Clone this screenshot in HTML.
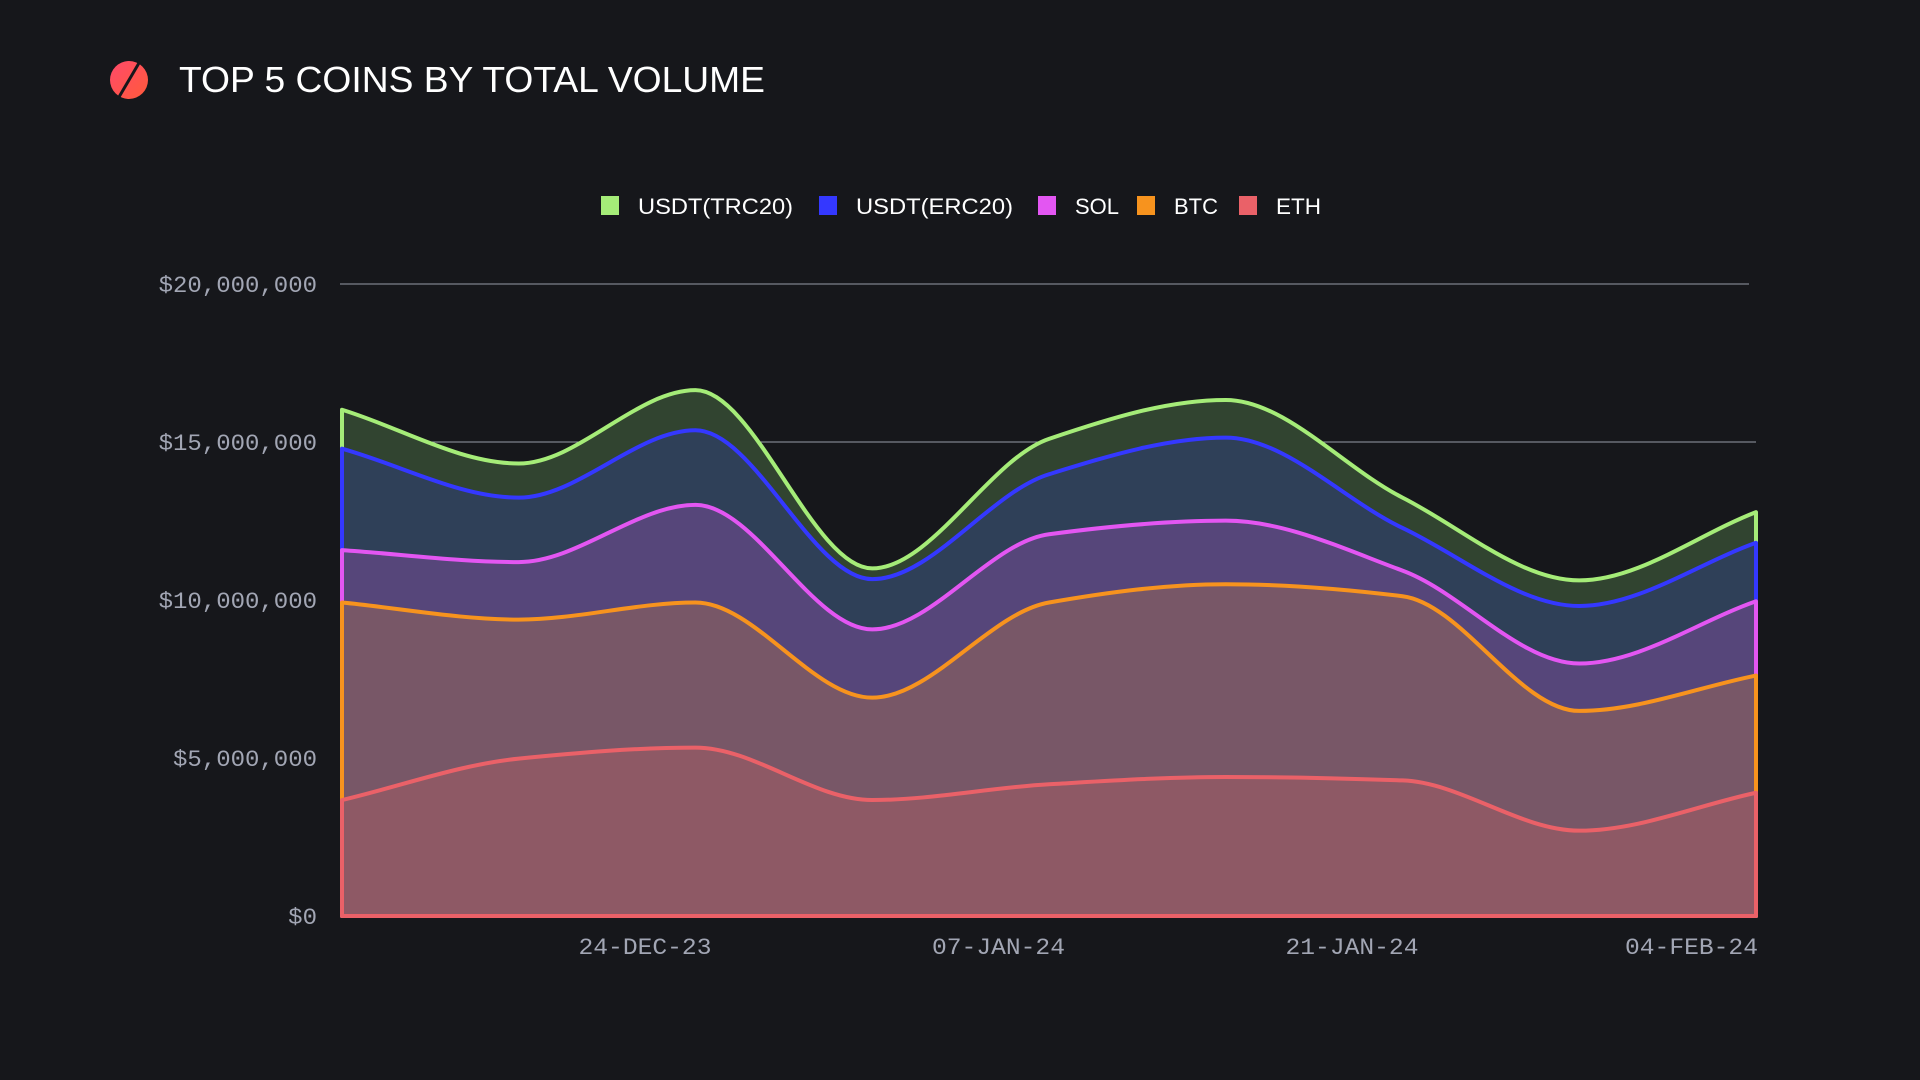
<!DOCTYPE html>
<html><head><meta charset="utf-8"><style>
html,body{margin:0;padding:0;background:#16171b;}
svg{display:block;}
</style></head><body>
<svg id="chart" width="1920" height="1080" viewBox="0 0 1920 1080" xmlns="http://www.w3.org/2000/svg" font-family="Liberation Sans, sans-serif">
<defs><linearGradient id="ig" x1="0" y1="0" x2="1" y2="1"><stop offset="0" stop-color="#ff4a6a"/><stop offset="1" stop-color="#ff5a3a"/></linearGradient></defs>
<rect width="1920" height="1080" fill="#16171b"/>
<g><circle cx="129" cy="80" r="19" fill="url(#ig)"/><line x1="119" y1="97" x2="139" y2="63" stroke="#16171b" stroke-width="3"/></g>
<text x="179" y="92" font-size="36" fill="#ffffff" textLength="586" lengthAdjust="spacingAndGlyphs">TOP 5 COINS BY TOTAL VOLUME</text>
<g id="legend"></g>
<g id="grid"></g>
<g id="areas"></g>
<g id="yaxis"></g>
<g id="xaxis"></g>
</svg>
<script>
const days = [0,7,14,21,28,35,42,49,56];
const eth  = [3.67,4.98,5.33,3.67,4.17,4.40,4.29,2.70,3.90];
const btc  = [6.25,4.40,4.59,3.24,5.75,6.10,5.83,3.79,3.71];
const sol  = [1.66,1.82,3.09,2.16,2.16,2.01,0.81,1.50,2.35];
const erc  = [3.21,2.04,2.36,1.59,1.90,2.63,1.35,1.82,1.85];
const trc  = [1.23,1.08,1.27,0.34,1.12,1.19,0.96,0.81,0.97];
const seriesNames = ["USDT(TRC20)","USDT(ERC20)","SOL","BTC","ETH"];
const yTicks = [0,5,10,15,20];
const yTickLabels = ["$0","$5,000,000","$10,000,000","$15,000,000","$20,000,000"];
const xTickDays = [12,26,40,54];
const xTickLabels = ["24-DEC-23","07-JAN-24","21-JAN-24","04-FEB-24"];

const NS="http://www.w3.org/2000/svg";
const X0=342, X1=1756, Y0=916, Y1=284;
const xs = d => X0 + (d - days[0])/(days[days.length-1]-days[0])*(X1-X0);
const ys = v => Y0 - v/20*(Y0-Y1);
function mk(tag, attrs, parent){const e=document.createElementNS(NS,tag);for(const k in attrs)e.setAttribute(k,attrs[k]);parent.appendChild(e);return e;}

function monotone(px, py){
  const n=px.length, dx=[], s=[], m=[];
  for(let i=0;i<n-1;i++){dx[i]=px[i+1]-px[i];s[i]=(py[i+1]-py[i])/dx[i];}
  m[0]=s[0]; m[n-1]=s[n-2];
  for(let i=1;i<n-1;i++){ if(s[i-1]*s[i]<=0) m[i]=0; else { m[i]=3*(dx[i-1]+dx[i])/((2*dx[i]+dx[i-1])/s[i-1]+(dx[i]+2*dx[i-1])/s[i]); } }
  let d="";
  for(let i=0;i<n-1;i++){
    const h=dx[i]/3;
    d+=` C${px[i]+h},${py[i]+m[i]*h} ${px[i+1]-h},${py[i+1]-m[i+1]*h} ${px[i+1]},${py[i+1]}`;
  }
  return d;
}

const grid=document.getElementById('grid');
yTicks.forEach((t,i)=>{
  const l=mk('line',{x1:340,x2:(t===20?1749:1756),y1:ys(t),y2:ys(t),stroke:'#b8bccb','stroke-width':1,opacity:0.8},grid);
  
  
});

const layers=[eth,btc,sol,erc,trc];
const strokes=["#ea6168","#f7931e","#e356f2","#3438ff","#a5ec78"];
const fills=["#8e5965","#785767","#56467a","#2f4058","#314430"];
const names=["area-eth","area-btc","area-sol","area-usdt-erc20","area-usdt-trc20"];
const areas=document.getElementById('areas');
let base=days.map(()=>0);
const tops=[];
layers.forEach((arr,k)=>{const top=base.map((b,i)=>b+arr[i]);tops.push({lo:base,hi:top});base=top;});
for(let k=layers.length-1;k>=0;k--){
  const px=days.map(xs), hi=tops[k].hi.map(ys);
  const d=`M${px[0]},${ys(0)} L${px[0]},${hi[0]}`+monotone(px,hi)+` L${px[px.length-1]},${ys(0)} Z`;
  const p=mk('path',{d:d,fill:fills[k],stroke:strokes[k],'stroke-width':4,'stroke-linejoin':'round'},areas);
  
  
}

const mono='font-family:"Liberation Mono",monospace';
const ya=document.getElementById('yaxis');
yTicks.forEach((t,i)=>{
  const len=yTickLabels[i].length*14.4;
  const e=mk('text',{x:317,y:ys(t)+8,'text-anchor':'end','font-size':23,fill:'#a2a6b4',style:mono,textLength:len,lengthAdjust:'spacingAndGlyphs'},ya);
  e.textContent=yTickLabels[i];
  
  
});
const xa=document.getElementById('xaxis');
xTickDays.forEach((d,i)=>{
  let cx=xs(d); const w=133; if(cx+w/2>1758) cx=1758-w/2;
  const e=mk('text',{x:cx,y:954,'text-anchor':'middle','font-size':23,fill:'#a2a6b4',style:mono,textLength:w,lengthAdjust:'spacingAndGlyphs'},xa);
  e.textContent=xTickLabels[i];
  
  
});
const lg=document.getElementById('legend');
const legColors=["#a5ec78","#3438ff","#e356f2","#f7931e","#ea6168"];
const legX=[601,819,1038,1137,1239];
const legW=[155,157,44,44,45];
seriesNames.forEach((n,i)=>{
  const g=mk('g',{},lg);
  
  
  mk('rect',{x:legX[i],y:196,width:18,height:19,fill:legColors[i]},g);
  const t=mk('text',{x:legX[i]+37,y:214,'font-size':22,fill:'#ffffff',textLength:legW[i],lengthAdjust:'spacingAndGlyphs'},g);
  t.textContent=n;
});
</script>
</body></html>
